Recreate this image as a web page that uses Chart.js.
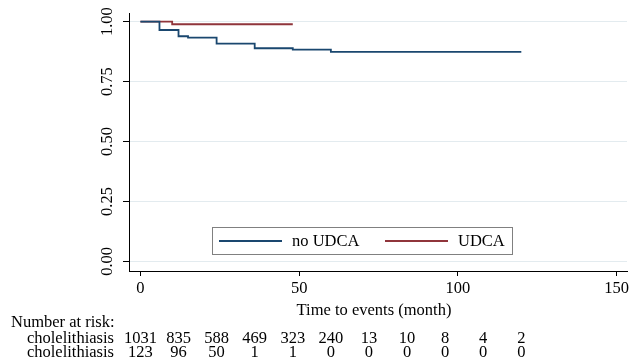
<!DOCTYPE html>
<html>
<head>
<meta charset="utf-8">
<script src="https://cdn.jsdelivr.net/npm/chart.js@4.4.1/dist/chart.umd.min.js"></script>
<style>
  html, body { margin: 0; padding: 0; background: #fff; }
  #wrap { width: 632px; height: 364px; }
</style>
</head>
<body>
<div id="wrap"><canvas id="km" width="632" height="364"></canvas></div>
<script>
// Kaplan-Meier estimates
const noUdcaTimes = [0, 6, 12, 15, 24, 36, 48, 60, 120];
const noUdcaSurv  = [1.0, 0.965, 0.939, 0.933, 0.908, 0.889, 0.883, 0.874, 0.874];
const udcaTimes   = [0, 10, 48];
const udcaSurv    = [1.0, 0.989, 0.989];

const seriesNames = ['no UDCA', 'UDCA'];
const xTicks = [0, 50, 100, 150];
const yTicks = [0, 0.25, 0.5, 0.75, 1];

// number at risk table
const riskTimes   = [0, 12, 24, 36, 48, 60, 72, 84, 96, 108, 120];
const riskNoUdca  = [1031, 835, 588, 469, 323, 240, 13, 10, 8, 4, 2];
const riskUdca    = [123, 96, 50, 1, 1, 0, 0, 0, 0, 0, 0];
const riskRowLabels = ['cholelithiasis', 'cholelithiasis'];

const xTitle = 'Time to events (month)';
const FONT = '"Liberation Serif", "Times New Roman", serif';
const FS = 16.5;
const BLUE = '#1a476f';
const RED = '#90353b';

const toPoints = (xs, ys) => xs.map((x, i) => ({ x: x, y: ys[i] }));

// extra drawing: rotated y labels, legend inside the plot, title and risk table
const extras = {
  id: 'extras',
  afterDraw(chart) {
    const ctx = chart.ctx;
    const xs = chart.scales.x;
    const ys = chart.scales.y;
    ctx.save();
    ctx.fillStyle = '#000';
    ctx.font = FS + 'px ' + FONT;

    // y tick labels, vertical like Stata
    ys.ticks.forEach(t => {
      const y = ys.getPixelForValue(t.value);
      ctx.save();
      ctx.translate(108, y);
      ctx.rotate(-Math.PI / 2);
      ctx.textAlign = 'center';
      ctx.textBaseline = 'middle';
      ctx.fillText(t.value.toFixed(2), 0, 0);
      ctx.restore();
    });

    // legend box
    ctx.fillStyle = '#fff';
    ctx.fillRect(212.5, 227.5, 300, 27);
    ctx.strokeStyle = '#808080';
    ctx.lineWidth = 1;
    ctx.strokeRect(212.5, 227.5, 300, 27);
    const ds = chart.data.datasets;
    const items = [{ x: 219, tx: 292 }, { x: 385, tx: 458 }];
    items.forEach((it, i) => {
      ctx.strokeStyle = ds[i].borderColor;
      ctx.lineWidth = 2;
      ctx.beginPath();
      ctx.moveTo(it.x, 241);
      ctx.lineTo(it.x + 63, 241);
      ctx.stroke();
      ctx.fillStyle = '#000';
      ctx.textAlign = 'left';
      ctx.textBaseline = 'middle';
      ctx.fillText(ds[i].label, it.tx, 242);
    });

    // x axis title
    ctx.textAlign = 'center';
    ctx.textBaseline = 'middle';
    ctx.fillText(xTitle, 374, 311);

    // number at risk
    ctx.textAlign = 'left';
    ctx.fillText('Number at risk:', 11, 323);
    ctx.textAlign = 'right';
    ctx.fillText(riskRowLabels[0], 114, 338.5);
    ctx.fillText(riskRowLabels[1], 114, 352.5);
    ctx.textAlign = 'center';
    riskTimes.forEach((t, i) => {
      const px = xs.getPixelForValue(t);
      ctx.fillText(String(riskNoUdca[i]), px, 338.5);
      ctx.fillText(String(riskUdca[i]), px, 352.5);
    });
    ctx.restore();
  }
};

new Chart(document.getElementById('km').getContext('2d'), {
  type: 'line',
  data: {
    datasets: [
      {
        label: seriesNames[0],
        data: toPoints(noUdcaTimes, noUdcaSurv),
        borderColor: BLUE,
        borderWidth: 1.8,
        stepped: 'before',
        pointRadius: 0,
        fill: false
      },
      {
        label: seriesNames[1],
        data: toPoints(udcaTimes, udcaSurv),
        borderColor: RED,
        borderWidth: 1.8,
        stepped: 'before',
        pointRadius: 0,
        fill: false
      }
    ]
  },
  options: {
    responsive: false,
    animation: false,
    layout: { padding: { top: 13, right: 4, left: 0, bottom: 0 } },
    plugins: {
      legend: { display: false },
      tooltip: { enabled: false }
    },
    scales: {
      x: {
        type: 'linear',
        min: -3.6,
        max: 153.3,
        afterBuildTicks: s => { s.ticks = xTicks.map(v => ({ value: v })); },
        afterFit: s => { s.height = 93; },
        grid: { display: true, drawOnChartArea: false, drawTicks: true, tickLength: 5, tickColor: '#000' },
        border: { display: true, color: '#000', width: 1 },
        ticks: {
          color: '#000',
          font: { family: FONT, size: FS },
          padding: 3,
          maxRotation: 0,
          callback: v => String(v)
        }
      },
      y: {
        type: 'linear',
        min: -0.04,
        max: 1.036,
        afterBuildTicks: s => { s.ticks = yTicks.map(v => ({ value: v })); },
        afterFit: s => { s.width = 129; },
        grid: { color: '#e3ebef', lineWidth: 1, drawTicks: true, tickLength: 6, tickColor: '#000' },
        border: { display: true, color: '#000', width: 1 },
        ticks: { display: false }
      }
    }
  },
  plugins: [extras]
});
</script>
</body>
</html>
